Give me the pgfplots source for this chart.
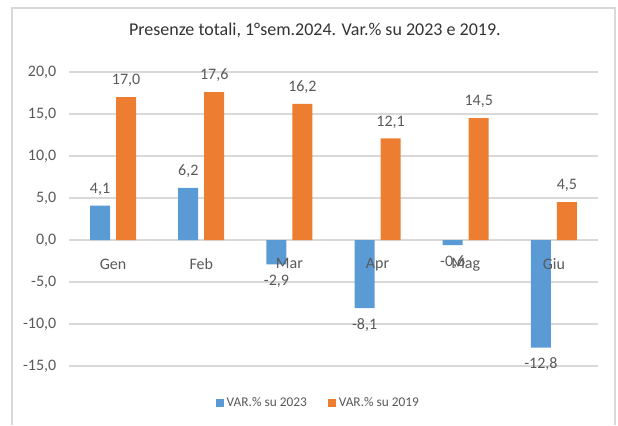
\documentclass[border=0pt]{standalone}
\usepackage{fontspec}
\setmainfont{Carlito}
\usepackage{pgfplots}
\pgfplotsset{compat=1.18}
\definecolor{serblue}{RGB}{91,155,213}
\definecolor{serorange}{RGB}{237,125,49}
\definecolor{gridgray}{RGB}{217,217,217}
\definecolor{txtgray}{RGB}{89,89,89}
% tick labels above the bars, grid below them
\pgfplotsset{
  layers/labelsontop/.define layer set={
    axis background,axis grid,axis ticks,axis lines,pre main,main,
    axis tick labels,axis descriptions,axis foreground
  }{/pgfplots/layers/standard},
}
\begin{document}
\begin{tikzpicture}
  \begin{axis}[
      set layers=labelsontop,
      scale only axis,
      width=396.75pt, height=220.5pt,
      ybar, bar width=15pt, ybar=4.5pt,
      xmin=-0.5, xmax=5.5,
      ymin=-15, ymax=20,
      ytick={-15,-10,-5,0,5,10,15,20},
      xtick={0,1,2,3,4,5},
      xticklabels={Gen,Feb,Mar,Apr,Mag,Giu},
      axis x line=middle, axis y line=left,
      axis line style={draw=none},
      major tick length=0pt,
      ymajorgrids=true, grid style={gridgray, line width=0.8pt},
      /pgf/number format/assume math mode=true,
      /pgf/number format/.cd, fixed, fixed zerofill, precision=1, use comma,
      /pgfplots/.cd,
      tick label style={font=\fontsize{12}{14}\selectfont, text=txtgray},
      yticklabel style={xshift=-6pt},
      xticklabel style={yshift=-10.5pt},
      nodes near coords,
      every node near coord/.append style={font=\fontsize{12}{14}\selectfont,
        text=txtgray, inner ysep=7.5pt},
      title={Presenze totali, 1°sem.2024. Var.\% su 2023 e 2019.},
      title style={font=\fontsize{13.5}{16}\selectfont, text=black!80,
        anchor=center, at={(rel axis cs:0.5,1)}, yshift=25.5pt, xshift=-14pt},
      legend style={at={(rel axis cs:0.5,0)}, anchor=center, yshift=-27.75pt,
        xshift=-11pt, draw=none, legend columns=2,
        font=\fontsize{10}{12}\selectfont, text=txtgray,
        /tikz/every even column/.append style={column sep=14pt}},
      legend image code/.code={\fill[#1] (0pt,-3pt) rectangle (6pt,3pt);},
      clip=false,
    ]
    \addplot[fill=serblue, draw=none] coordinates {
      (0,4.1) (1,6.2) (2,-2.9) (3,-8.1) (4,-0.6) (5,-12.8)
    };
    \addplot[fill=serorange, draw=none] coordinates {
      (0,17.0) (1,17.6) (2,16.2) (3,12.1) (4,14.5) (5,4.5)
    };
    \legend{VAR.\% su 2023, VAR.\% su 2019}
  \end{axis}
  \draw[gridgray, line width=0.9pt] (-42.75pt,-44.25pt) -- (-42.75pt,268.5pt)
    -- (409.5pt,268.5pt) -- (409.5pt,-44.25pt);
  \useasboundingbox (-51.75pt,-44.25pt) rectangle (411.75pt,274.5pt);
\end{tikzpicture}
\end{document}
